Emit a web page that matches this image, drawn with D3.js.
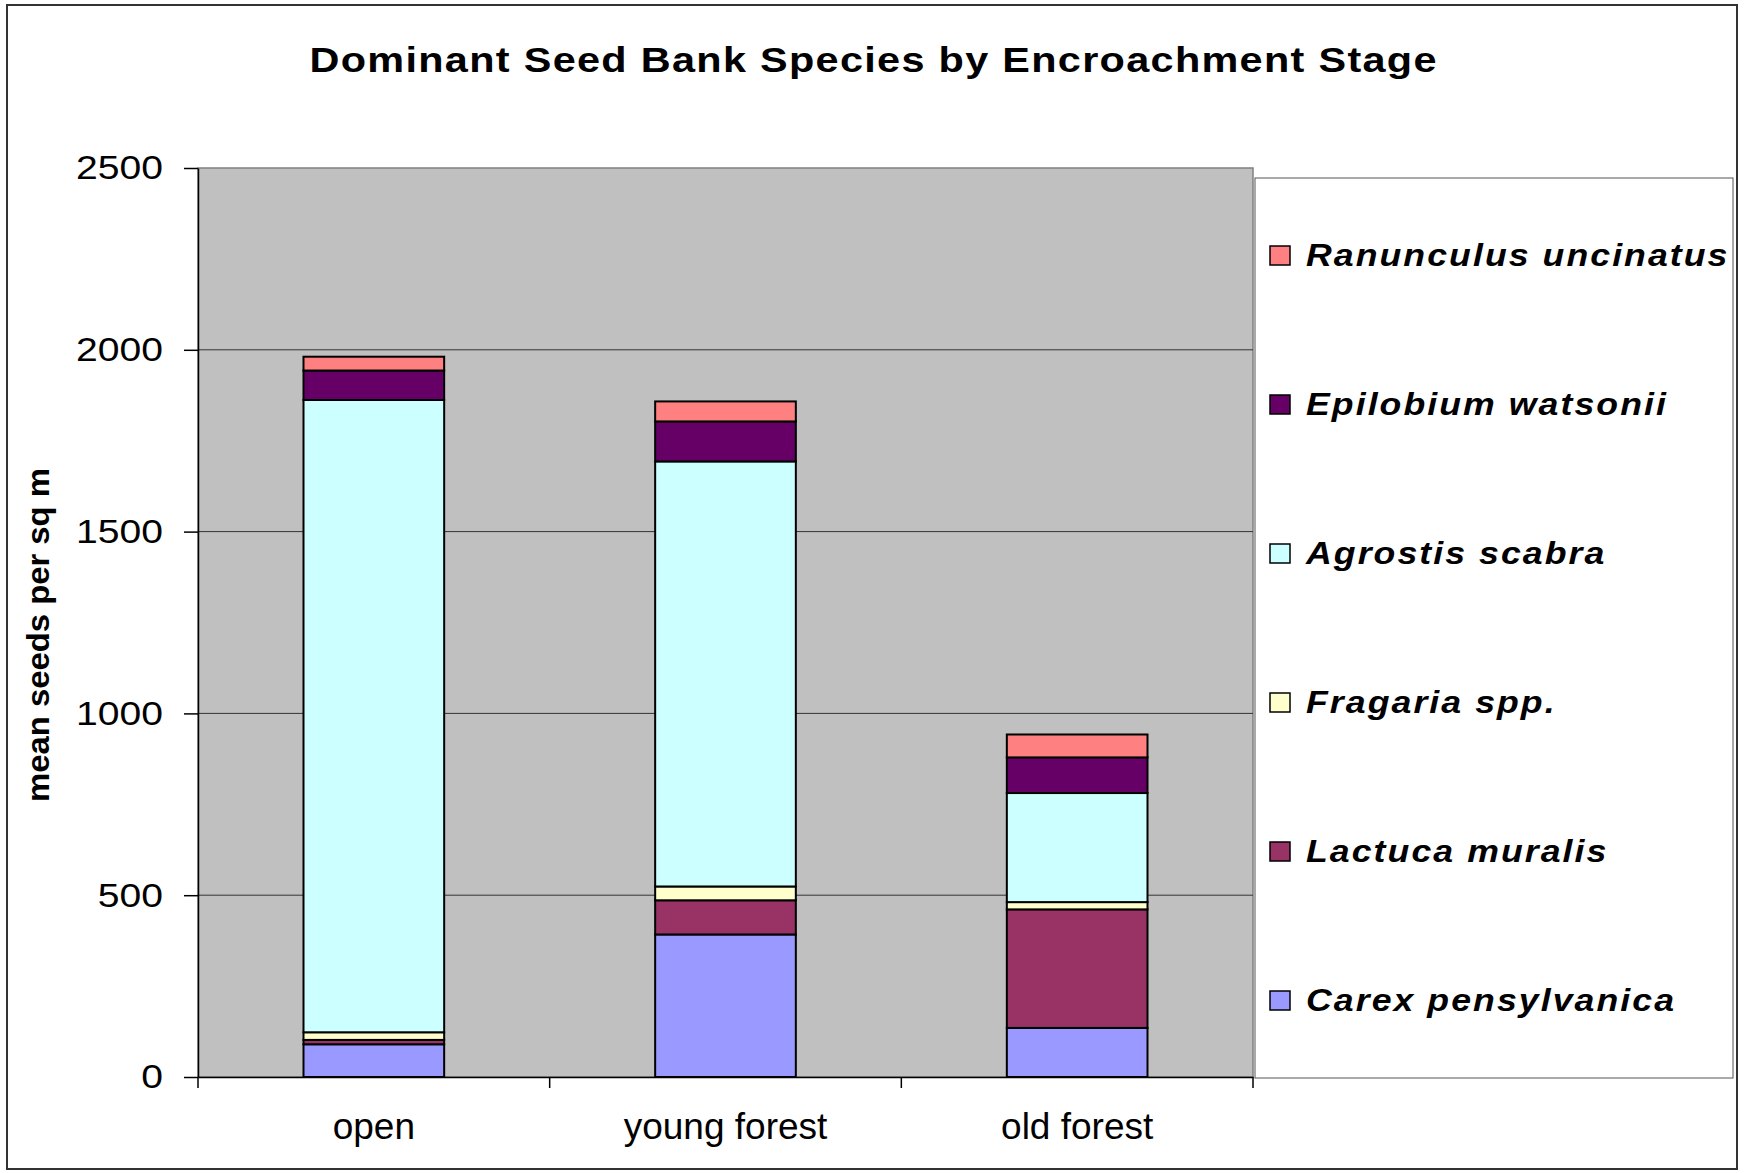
<!DOCTYPE html>
<html>
  <head>
    <meta charset="utf-8">
    <title>Dominant Seed Bank Species</title>
    <style>
      body { margin: 0; background: #fff; }
      text { font-family: "Liberation Sans", Arial, sans-serif; }
    </style>
  </head>
  <body>
    <div id="chart"></div>
    <script src="https://d3js.org/d3.v7.min.js"></script>
    <script>
      // data (mean seeds per sq m)
      var stages     = ["open", "young forest", "old forest"];
      var species    = ["Carex pensylvanica", "Lactuca muralis", "Fragaria spp.",
                        "Agrostis scabra", "Epilobium watsonii", "Ranunculus uncinatus"];
      var carex      = [90, 392, 135];
      var lactuca    = [12, 94, 326];
      var fragaria   = [21, 38, 20];
      var agrostis   = [1739, 1169, 300];
      var epilobium  = [81, 110, 98];
      var ranunculus = [38, 55, 63];
      var colors     = ["#9999FF", "#993366", "#FFFFCC", "#CCFFFF", "#660066", "#FF8080"];
      var yTicks     = [0, 500, 1000, 1500, 2000, 2500];

      var series = [carex, lactuca, fragaria, agrostis, epilobium, ranunculus];
      var rows = stages.map(function(s, i) {
        var r = { stage: s };
        species.forEach(function(sp, j) { r[sp] = series[j][i]; });
        return r;
      });

      var W = 1746, H = 1173;
      var plot = { left: 198, right: 1253, top: 168, bottom: 1077 };
      var stretch = 1.15;   // the original text is a bit wide

      var svg = d3.select("#chart").append("svg")
          .attr("width", W).attr("height", H);

      // outer frame
      svg.append("rect")
          .attr("x", 7).attr("y", 5)
          .attr("width", 1730).attr("height", 1164)
          .attr("fill", "#fff").attr("stroke", "#333").attr("stroke-width", 2);

      var x = d3.scaleBand().domain(stages).range([plot.left, plot.right]).padding(0);
      var y = d3.scaleLinear().domain([0, 2500]).range([plot.bottom, plot.top]);
      var color = d3.scaleOrdinal().domain(species).range(colors);

      // plot area
      svg.append("rect")
          .attr("x", plot.left).attr("y", plot.top)
          .attr("width", plot.right - plot.left).attr("height", plot.bottom - plot.top)
          .attr("fill", "#C0C0C0").attr("stroke", "#808080").attr("stroke-width", 1.5);

      // gridlines
      svg.append("g").selectAll("line")
          .data(yTicks.filter(function(d) { return d > 0 && d < 2500; }))
          .enter().append("line")
          .attr("x1", plot.left).attr("x2", plot.right)
          .attr("y1", function(d) { return y(d); })
          .attr("y2", function(d) { return y(d); })
          .attr("stroke", "#333").attr("stroke-width", 1);

      // stacked bars
      var stack = d3.stack().keys(species)(rows);
      var bw = x.bandwidth() * 0.4;

      svg.append("g").selectAll("g")
          .data(stack)
          .enter().append("g")
          .attr("fill", function(d) { return color(d.key); })
          .selectAll("rect")
          .data(function(d) { return d; })
          .enter().append("rect")
          .attr("x", function(d) { return x(d.data.stage) + x.bandwidth() / 2 - bw / 2; })
          .attr("width", bw)
          .attr("y", function(d) { return y(d[1]); })
          .attr("height", function(d) { return y(d[0]) - y(d[1]); })
          .attr("stroke", "#000").attr("stroke-width", 2);

      // y axis
      var gY = svg.append("g")
          .attr("transform", "translate(" + plot.left + ",0)")
          .call(d3.axisLeft(y).tickValues(yTicks).tickFormat(d3.format("d"))
                .tickSize(14).tickSizeOuter(0));
      gY.select(".domain").attr("stroke", "#000").attr("stroke-width", 1.5);
      gY.selectAll(".tick line").attr("stroke", "#000").attr("stroke-width", 1.5);
      gY.selectAll(".tick text")
          .attr("x", -35 / stretch)
          .attr("transform", "scale(" + stretch + ",1)")
          .style("font-family", "'Liberation Sans', Arial, sans-serif")
          .style("font-size", "34px")
          .attr("fill", "#000");

      // x axis: labels centred on bands, ticks on band edges
      var gX = svg.append("g")
          .attr("transform", "translate(0," + plot.bottom + ")")
          .call(d3.axisBottom(x).tickSize(0).tickSizeOuter(0).tickPadding(36));
      gX.select(".domain").attr("stroke", "#000").attr("stroke-width", 1.5);
      gX.selectAll(".tick text")
          .style("font-family", "'Liberation Sans', Arial, sans-serif")
          .style("font-size", "37px")
          .attr("fill", "#000");

      var edges = stages.map(function(s) { return x(s); }).concat([plot.right]);
      gX.selectAll(".edge")
          .data(edges)
          .enter().append("line")
          .attr("class", "edge")
          .attr("x1", function(d) { return d; }).attr("x2", function(d) { return d; })
          .attr("y1", 0).attr("y2", 11)
          .attr("stroke", "#000").attr("stroke-width", 1.5);

      // title
      svg.append("g")
          .attr("transform", "translate(873,72)scale(" + stretch + ",1)")
          .append("text")
          .attr("text-anchor", "middle")
          .attr("textLength", 1127 / stretch)
          .attr("lengthAdjust", "spacing")
          .style("font-size", "36px")
          .style("font-weight", "bold")
          .text("Dominant Seed Bank Species by Encroachment Stage");

      // y axis title
      svg.append("text")
          .attr("transform", "translate(49,635)rotate(-90)")
          .attr("text-anchor", "middle")
          .attr("textLength", 334)
          .attr("lengthAdjust", "spacingAndGlyphs")
          .style("font-size", "32px")
          .style("font-weight", "bold")
          .text("mean seeds per sq m");

      // legend
      var legend = svg.append("g");
      legend.append("rect")
          .attr("x", 1255).attr("y", 178)
          .attr("width", 478).attr("height", 900)
          .attr("fill", "#fff").attr("stroke", "#555").attr("stroke-width", 1);

      var items = legend.selectAll(".item")
          .data(species.slice().reverse())
          .enter().append("g")
          .attr("class", "item")
          .attr("transform", function(d, i) { return "translate(0," + (266 + i * 149) + ")"; });

      items.append("rect")
          .attr("x", 1270).attr("y", -20)
          .attr("width", 20).attr("height", 19)
          .attr("fill", function(d) { return color(d); })
          .attr("stroke", "#000").attr("stroke-width", 1.5);

      items.append("g")
          .attr("transform", "translate(1306,0)scale(" + stretch + ",1)")
          .append("text")
          .style("font-size", "31px")
          .style("font-weight", "bold")
          .style("font-style", "italic")
          .style("letter-spacing", "1.8px")
          .text(function(d) { return d; });
    </script>
  </body>
</html>
